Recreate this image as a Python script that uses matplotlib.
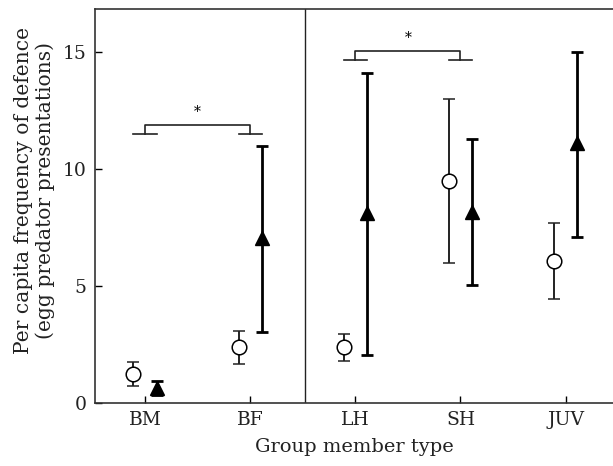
import numpy as np
import matplotlib.pyplot as plt

plt.rcParams['font.family'] = ['DejaVu Serif']

# Group member types
categories = ["BM", "BF", "LH", "SH", "JUV"]

# Circles (open) series: mean, lower, upper
circ_mean = [1.25, 2.4, 2.4, 9.5, 6.05]
circ_low = [0.75, 1.67, 1.8, 6.0, 4.43]
circ_high = [1.75, 3.1, 2.95, 13.0, 7.7]

# Triangles (filled) series: mean, lower, upper
tri_mean = [0.65, 7.05, 8.1, 8.15, 11.1]
tri_low = [0.35, 3.03, 2.05, 5.04, 7.1]
tri_high = [0.95, 11.0, 14.1, 11.3, 15.0]

# significance brackets: (left category index, right category index, height)
brackets = [(0, 1, 11.9), (2, 3, 15.05)]

fig = plt.figure(figsize=(6.13, 4.66), dpi=100)
ax = fig.add_axes([0.155, 0.135, 0.845, 0.846])

x = np.arange(1, len(categories) + 1)
off = 0.11

cm = np.array(circ_mean)
ax.errorbar(x - off, cm, yerr=[cm - np.array(circ_low), np.array(circ_high) - cm],
            fmt='o', mfc='white', mec='black', mew=1.1, ms=10.5, color='black',
            ecolor='#222222', elinewidth=1.4, capsize=4, capthick=1.6, zorder=3)

tm = np.array(tri_mean)
ax.errorbar(x + off, tm, yerr=[tm - np.array(tri_low), np.array(tri_high) - tm],
            fmt='^', mfc='black', mec='black', ms=10, color='black',
            ecolor='black', elinewidth=2.0, capsize=4, capthick=2.0, zorder=3)

# brackets
for i, j, h in brackets:
    xi, xj = x[i], x[j]
    leg = h - 0.4
    ax.plot([xi, xi, xj, xj], [leg, h, h, leg], color='#222222', lw=1.2)
    ax.plot([xi - off, xi + off], [leg, leg], color='#222222', lw=1.2)
    ax.plot([xj - off, xj + off], [leg, leg], color='#222222', lw=1.2)
    ax.text((xi + xj) / 2, h + 0.25, '*', ha='center', va='bottom', fontsize=10)

# divider between breeders and helpers
ax.axvline(2.52, color='#222222', lw=1.0)

ax.set_xlim(0.525, 5.45)
ax.set_ylim(0, 16.84)
ax.set_xticks(x)
ax.set_xticklabels(categories)
ax.set_yticks([0, 5, 10, 15])
ax.tick_params(direction='in', length=5, labelsize=13.5, width=1.0, pad=6,
               labelcolor='#222222')
ax.spines['right'].set_visible(False)
for s in ['left', 'bottom', 'top']:
    ax.spines[s].set_color('#333333')
    ax.spines[s].set_linewidth(1.2)

ax.set_xlabel('Group member type', fontsize=14, labelpad=6, color='#222222')
ax.set_ylabel('Per capita frequency of defence\n(egg predator presentations)',
              fontsize=14.6, color='#222222', linespacing=1.15)
ax.yaxis.set_label_coords(-0.077, 0.54)

fig.savefig('out.png', dpi=100)
